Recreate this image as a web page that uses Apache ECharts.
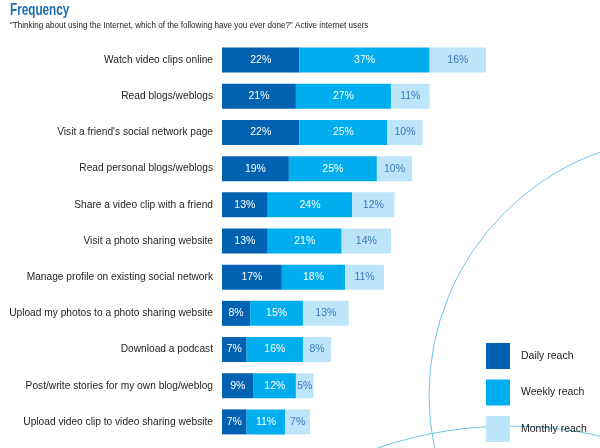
<!DOCTYPE html>
<html lang="en">
<head>
<meta charset="utf-8" />
<title>Frequency</title>
<script src="https://cdn.jsdelivr.net/npm/echarts@6/dist/echarts.min.js"></script>
<style>
  html, body { margin: 0; padding: 0; background: #fff; }
  #main { width: 600px; height: 448px; }
</style>
</head>
<body>
<div id="main"></div>
<script type="text/javascript">
    var categories = [
        'Watch video clips online',
        'Read blogs/weblogs',
        "Visit a friend's social network page",
        'Read personal blogs/weblogs',
        'Share a video clip with a friend',
        'Visit a photo sharing website',
        'Manage profile on existing social network',
        'Upload my photos to a photo sharing website',
        'Download a podcast',
        'Post/write stories for my own blog/weblog',
        'Upload video clip to video sharing website'
    ];
    var dailyReach = [22, 21, 22, 19, 13, 13, 17, 8, 7, 9, 7];
    var weeklyReach = [37, 27, 25, 25, 24, 21, 18, 15, 16, 12, 11];
    var monthlyReach = [16, 11, 10, 10, 12, 14, 11, 13, 8, 5, 7];

    var fontMain = '"Liberation Sans", Arial, sans-serif';
    var myChart = echarts.init(document.getElementById('main'));

    function seriesOf(name, data, color, labelColor) {
        return {
            name: name,
            type: 'bar',
            stack: 'reach',
            barWidth: 25,
            data: data,
            itemStyle: { color: color },
            label: {
                show: true,
                position: 'inside',
                formatter: '{c}%',
                color: labelColor,
                fontSize: 10.5,
                fontFamily: fontMain
            },
            emphasis: { disabled: true }
        };
    }

    var option = {
        animation: false,
        legend: {
            orient: 'vertical',
            left: 486,
            top: 343,
            padding: 0,
            icon: 'rect',
            itemWidth: 24,
            itemHeight: 26,
            itemGap: 10.5,
            selectedMode: false,
            textStyle: { color: '#222', fontSize: 10.5, fontFamily: fontMain, padding: [0, 0, 0, 6] },
            data: ['Daily reach', 'Weekly reach', 'Monthly reach']
        },
        graphic: [
            {
                type: 'circle', z: -1, silent: true,
                shape: { cx: 687, cy: 395, r: 258 },
                style: { fill: 'none', stroke: '#6cc4ea', lineWidth: 1 }
            },
            {
                type: 'circle', z: -1, silent: true,
                shape: { cx: 510, cy: 836, r: 410 },
                style: { fill: 'none', stroke: '#6cc4ea', lineWidth: 1 }
            },
            {
                // condensed title, as in the original
                type: 'text', x: 10, y: 2, scaleX: 0.69, silent: true,
                style: {
                    text: 'Frequency',
                    font: 'bold 17px "Liberation Sans", Arial, sans-serif',
                    fill: '#1b6db4'
                }
            },
            {
                type: 'text', x: 10, y: 21, scaleX: 0.9, silent: true,
                style: {
                    text: '\u201cThinking about using the Internet, which of the following have you ever done?\u201d Active internet users',
                    font: '9px "Liberation Sans", Arial, sans-serif',
                    fill: '#222'
                }
            }
        ],
        grid: { left: 222, right: 26, top: 42, bottom: 8, outerBoundsMode: 'none' },
        xAxis: {
            type: 'value',
            min: 0,
            max: 100,
            show: false
        },
        yAxis: {
            type: 'category',
            inverse: true,
            data: categories,
            axisLine: { show: false },
            axisTick: { show: false },
            axisLabel: { color: '#1e1e1e', fontSize: 10.2, margin: 9, fontFamily: fontMain }
        },
        series: [
            seriesOf('Daily reach', dailyReach, '#0062b0', '#ffffff'),
            seriesOf('Weekly reach', weeklyReach, '#00aeef', '#ffffff'),
            seriesOf('Monthly reach', monthlyReach, '#bde5f9', '#3a78bf')
        ]
    };

    myChart.setOption(option);
</script>
</body>
</html>
